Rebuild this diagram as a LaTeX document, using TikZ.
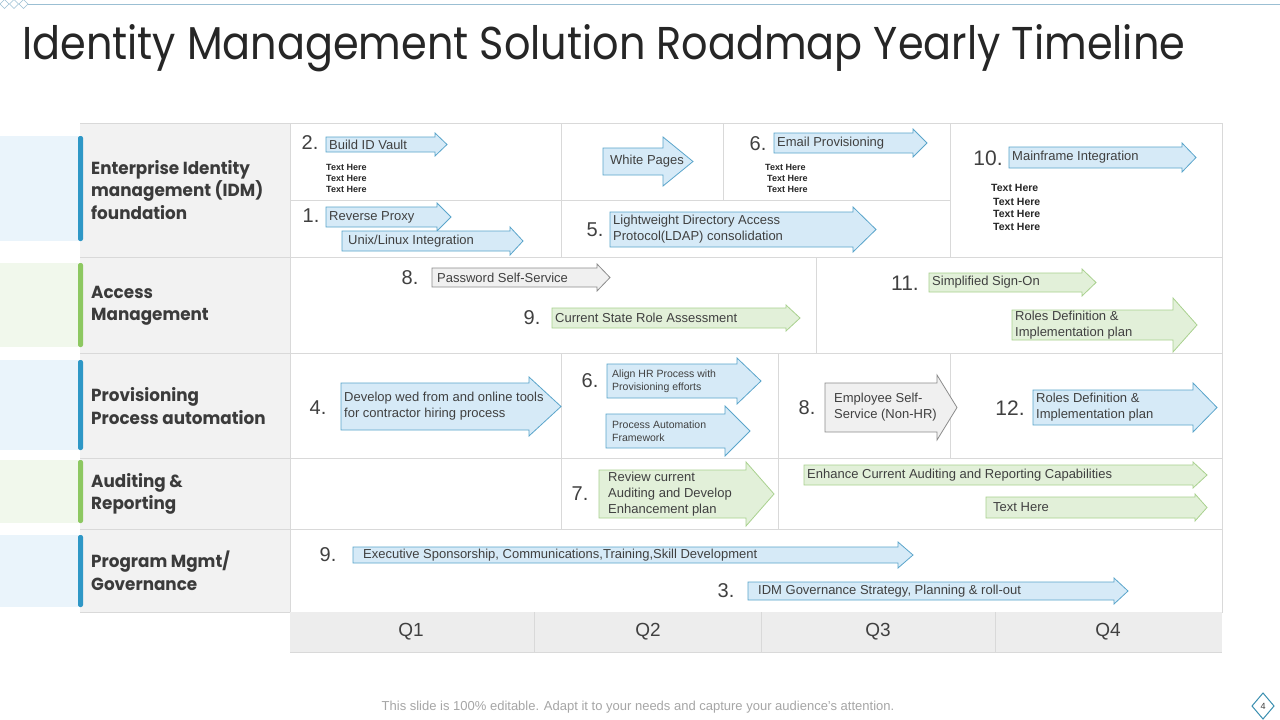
\documentclass[tikz,border=0pt]{standalone}
\usepackage{fontspec}
\setmainfont{Liberation Sans}
\newfontfamily\titlefont{Poppins}[FakeStretch=0.9]
\newfontfamily\labelfont{Poppins}[FakeStretch=0.96]
\usetikzlibrary{positioning}

\definecolor{barblue}{HTML}{2E97C6}
\definecolor{bargreen}{HTML}{8DC861}
\definecolor{bandblue}{HTML}{EAF4FB}
\definecolor{bandgreen}{HTML}{F1F8EC}
\definecolor{cellgray}{HTML}{F2F2F2}
\definecolor{gridgray}{HTML}{D9D9D9}
\definecolor{qgray}{HTML}{EDEDED}
\definecolor{arrblue}{HTML}{5AA5CB}
\definecolor{fillblue}{HTML}{D6EAF7}
\definecolor{arrgreen}{HTML}{A9D18E}
\definecolor{fillgreen}{HTML}{E2F0D9}
\definecolor{arrgray}{HTML}{8C8C8C}
\definecolor{fillgray}{HTML}{F0F0F0}
\definecolor{inkgray}{HTML}{404040}
\definecolor{darkink}{HTML}{262626}
\definecolor{labelink}{HTML}{3B3B3B}
\definecolor{footgray}{HTML}{A6A6A6}
\definecolor{topline}{HTML}{9BBFD3}
\definecolor{pageteal}{HTML}{3A8FB0}

% arrow box: style, node options, x-left, y-top, x-head, x-tip, y-bottom, head extend, text
\newcommand{\roadarrow}[9]{%
  \draw[#1] (#3,#4) -- (#5,#4) -- (#5,#4-#8) -- (#6,{(#4+#7)/2})
        -- (#5,#7+#8) -- (#5,#7) -- (#3,#7) -- cycle;
  \node[atext, #2] at ({#3+3},{(#4+#7)/2}) {#9};
}

\begin{document}
\begin{tikzpicture}[x=1pt, y=-1pt,
    bluearr/.style={draw=arrblue, fill=fillblue, line width=0.8pt},
    greenarr/.style={draw=arrgreen, fill=fillgreen, line width=0.8pt},
    grayarr/.style={draw=arrgray, fill=fillgray, line width=0.8pt},
    atext/.style={font=\fontsize{13}{16}\selectfont, text=inkgray, inner sep=0pt,
                  anchor=west, align=left},
    smalltext/.style={font=\fontsize{10.5}{13}\selectfont},
    num/.style={font=\fontsize{20}{20}\selectfont, text=inkgray, inner sep=0pt},
    bignum/.style={num, font=\fontsize{21}{21}\selectfont},
    herenote/.style={font=\bfseries\fontsize{9}{9}\selectfont, text=darkink,
                     anchor=west, inner sep=0pt},
    rowlabel/.style={font=\labelfont\bfseries\fontsize{17.5}{22.5}\selectfont,
                     text=labelink, anchor=west, align=left, inner sep=0pt},
    quarter/.style={font=\fontsize{19}{19}\selectfont, text=inkgray, inner sep=0pt},
    gridline/.style={draw=gridgray, line width=0.8pt}
]
\useasboundingbox (0,0) rectangle (1280,720);
\fill[white] (0,0) rectangle (1280,720);

% ---- top decoration and title ----
\foreach \cx in {4.5,14,23.5}
  \draw[topline, line width=0.6pt] (\cx-4.5,4) -- (\cx,-0.5) -- (\cx+4.5,4)
        -- (\cx,8.5) -- cycle;
\draw[topline, line width=0.8pt] (28,4) -- (1280,4);
\node[font=\titlefont\fontsize{46}{46}\selectfont, text=darkink, anchor=base west,
      inner sep=0pt] (title) at (22,59)
      {Identity Management Solution Roadmap Yearly Timeline};

% ---- left bands, label column, bars ----
\foreach \ya/\yb/\fc in {136/241/bandblue, 263/347/bandgreen, 360/450/bandblue,
                         460/523/bandgreen, 535/607/bandblue}
  \fill[\fc] (0,\ya) rectangle (78,\yb);
\fill[cellgray] (80,123) rectangle (290,612);
\foreach \yy in {123,257,353,458,529,612}
  \draw[gridline] (80,\yy) -- (290,\yy);
\foreach \ya/\yb/\bc in {136/241/barblue, 263/347/bargreen, 360/450/barblue,
                         460/523/bargreen, 535/607/barblue}
  \fill[\bc, rounded corners=2pt] (78,\ya) rectangle (83,\yb);

\node[rowlabel] (lab1) at (91,190) {Enterprise Identity\\management (IDM)\\foundation};
\node[rowlabel] (lab2) at (91,306) {Access\\Management};
\node[rowlabel] (lab3) at (91,406) {Provisioning\\Process automation};
\node[rowlabel] (lab4) at (91,494) {Auditing \&\\Reporting};
\node[rowlabel] (lab5) at (91,571) {Program Mgmt/\\Governance};

% ---- grid ----
\draw[gridline] (290,123) rectangle (1222,612);
\foreach \yy in {257,353,458,529}
  \draw[gridline] (290,\yy) -- (1222,\yy);
\draw[gridline] (290,200) -- (950,200);
\foreach \xx/\ya/\yb in {561/123/257, 723/123/200, 950/123/257, 816/257/353,
                         561/353/458, 778/353/458, 950/353/458, 561/458/529,
                         778/458/529}
  \draw[gridline] (\xx,\ya) -- (\xx,\yb);

% ---- quarters ----
\fill[qgray] (290,612) rectangle (1222,652);
\draw[gridline] (290,652) -- (1222,652);
\foreach \xx in {534,761,995}
  \draw[gridline] (\xx,612) -- (\xx,652);
\node[quarter] (q1) at (411,632) {Q1};
\node[quarter] (q2) at (648,632) {Q2};
\node[quarter] (q3) at (878,632) {Q3};
\node[quarter] (q4) at (1108,632) {Q4};

% ---- Row 1: IDM foundation ----
\node[num] (n2) at (310,143) {2.};
\roadarrow{bluearr}{name=vault}{326}{137}{435}{447}{152}{4}{Build ID Vault}
\foreach \yy/\xx [count=\i] in {167/326,178/326,189/326}
  \node[herenote] (tha\i) at (\xx,\yy) {Text Here};
\node[num] (n1) at (311,216) {1.};
\roadarrow{bluearr}{name=rproxy}{326}{207}{437}{451}{227}{4}{Reverse Proxy}
\roadarrow{bluearr}{name=unix, xshift=3pt}{342}{231}{510}{523}{251}{4}{Unix/Linux Integration}
\roadarrow{bluearr}{name=wpages, xshift=4pt}{603}{148}{663}{693}{175}{11}{White Pages}
\node[num] (n5) at (595,230) {5.};
\roadarrow{bluearr}{name=ldap}{610}{212}{853}{876}{247}{5}{Lightweight Directory Access\\Protocol(LDAP) consolidation}
\node[num] (n6a) at (758,144) {6.};
\roadarrow{bluearr}{name=email}{774}{133}{913}{927}{153}{4}{Email Provisioning}
\foreach \yy/\xx [count=\i] in {167/765,178/767,189/767}
  \node[herenote] (thb\i) at (\xx,\yy) {Text Here};
\node[bignum] (n10) at (988,158) {10.};
\roadarrow{bluearr}{name=mainframe}{1009}{147}{1182}{1196}{168}{4}{Mainframe Integration}
\foreach \yy/\xx [count=\i] in {188/991,202/993,214/993,227/993}
  \node[herenote, font=\bfseries\fontsize{10.5}{10.5}\selectfont] (thc\i) at (\xx,\yy) {Text Here};

% ---- Row 2: Access management ----
\node[num] (n8a) at (410,278) {8.};
\roadarrow{grayarr}{name=pwd, xshift=2pt}{432}{268}{597}{610}{287}{4}{Password Self-Service}
\node[num] (n9a) at (532,318) {9.};
\roadarrow{greenarr}{name=rolestate}{552}{308}{786}{800}{328}{3}{Current State Role Assessment}
\node[bignum] (n11) at (905,283) {11.};
\roadarrow{greenarr}{name=sso}{929}{273}{1082}{1096}{292}{4}{Simplified Sign-On}
\roadarrow{greenarr}{name=rolesdef}{1012}{310}{1173}{1197}{340}{12}{Roles Definition \&\\Implementation plan}

% ---- Row 3: Provisioning ----
\node[num] (n4) at (318,408) {4.};
\roadarrow{bluearr}{name=webtools}{341}{383}{529}{561}{430}{6}{Develop wed from and online tools\\for contractor hiring process}
\node[num] (n6b) at (590,381) {6.};
\roadarrow{bluearr}{name=alignhr, smalltext, xshift=2pt}{607}{364}{737}{761}{398}{6}{Align HR Process with\\Provisioning efforts}
\roadarrow{bluearr}{name=procauto, smalltext, xshift=3pt}{606}{414}{725}{750}{448}{8}{Process Automation\\Framework}
\node[num] (n8b) at (807,408) {8.};
\roadarrow{grayarr}{name=ess, xshift=6pt}{825}{383}{937}{957}{432}{8}{Employee Self-\\Service (Non-HR)}
\node[bignum] (n12) at (1010,408) {12.};
\roadarrow{bluearr}{name=rolesplan}{1033}{390}{1193}{1217}{425}{7}{Roles Definition \&\\Implementation plan}

% ---- Row 4: Auditing ----
\node[num] (n7) at (580,494) {7.};
\roadarrow{greenarr}{name=review, xshift=6pt}{599}{470}{746}{774}{518}{8}{Review current\\Auditing and Develop\\Enhancement plan}
\roadarrow{greenarr}{name=enhance}{804}{465}{1193}{1207}{485}{3}{Enhance Current Auditing and Reporting Capabilities}
\roadarrow{greenarr}{name=audtext, xshift=4pt}{986}{497}{1195}{1207}{518}{3}{Text Here}

% ---- Row 5: Governance ----
\node[num] (n9b) at (328,555) {9.};
\roadarrow{bluearr}{name=execsp, xshift=7pt}{353}{547}{898}{913}{563}{5}{Executive Sponsorship, Communications,Training,Skill Development}
\node[num] (n3) at (726,591) {3.};
\roadarrow{bluearr}{name=govern, xshift=7pt}{748}{582}{1114}{1128}{600}{4}{IDM Governance Strategy, Planning \& roll-out}

% ---- footer ----
\node[font=\fontsize{13}{13}\selectfont, text=footgray] (foot) at (638,707)
      {This slide is 100\% editable. Adapt it to your needs and capture your audience's attention.};
\draw[pageteal, line width=1pt] (1263,693) -- (1274,706) -- (1263,719) -- (1252,706) -- cycle;
\node[font=\fontsize{9}{9}\selectfont, text=inkgray, inner sep=0pt] (pnum) at (1263,706) {4};

\end{tikzpicture}
\end{document}
